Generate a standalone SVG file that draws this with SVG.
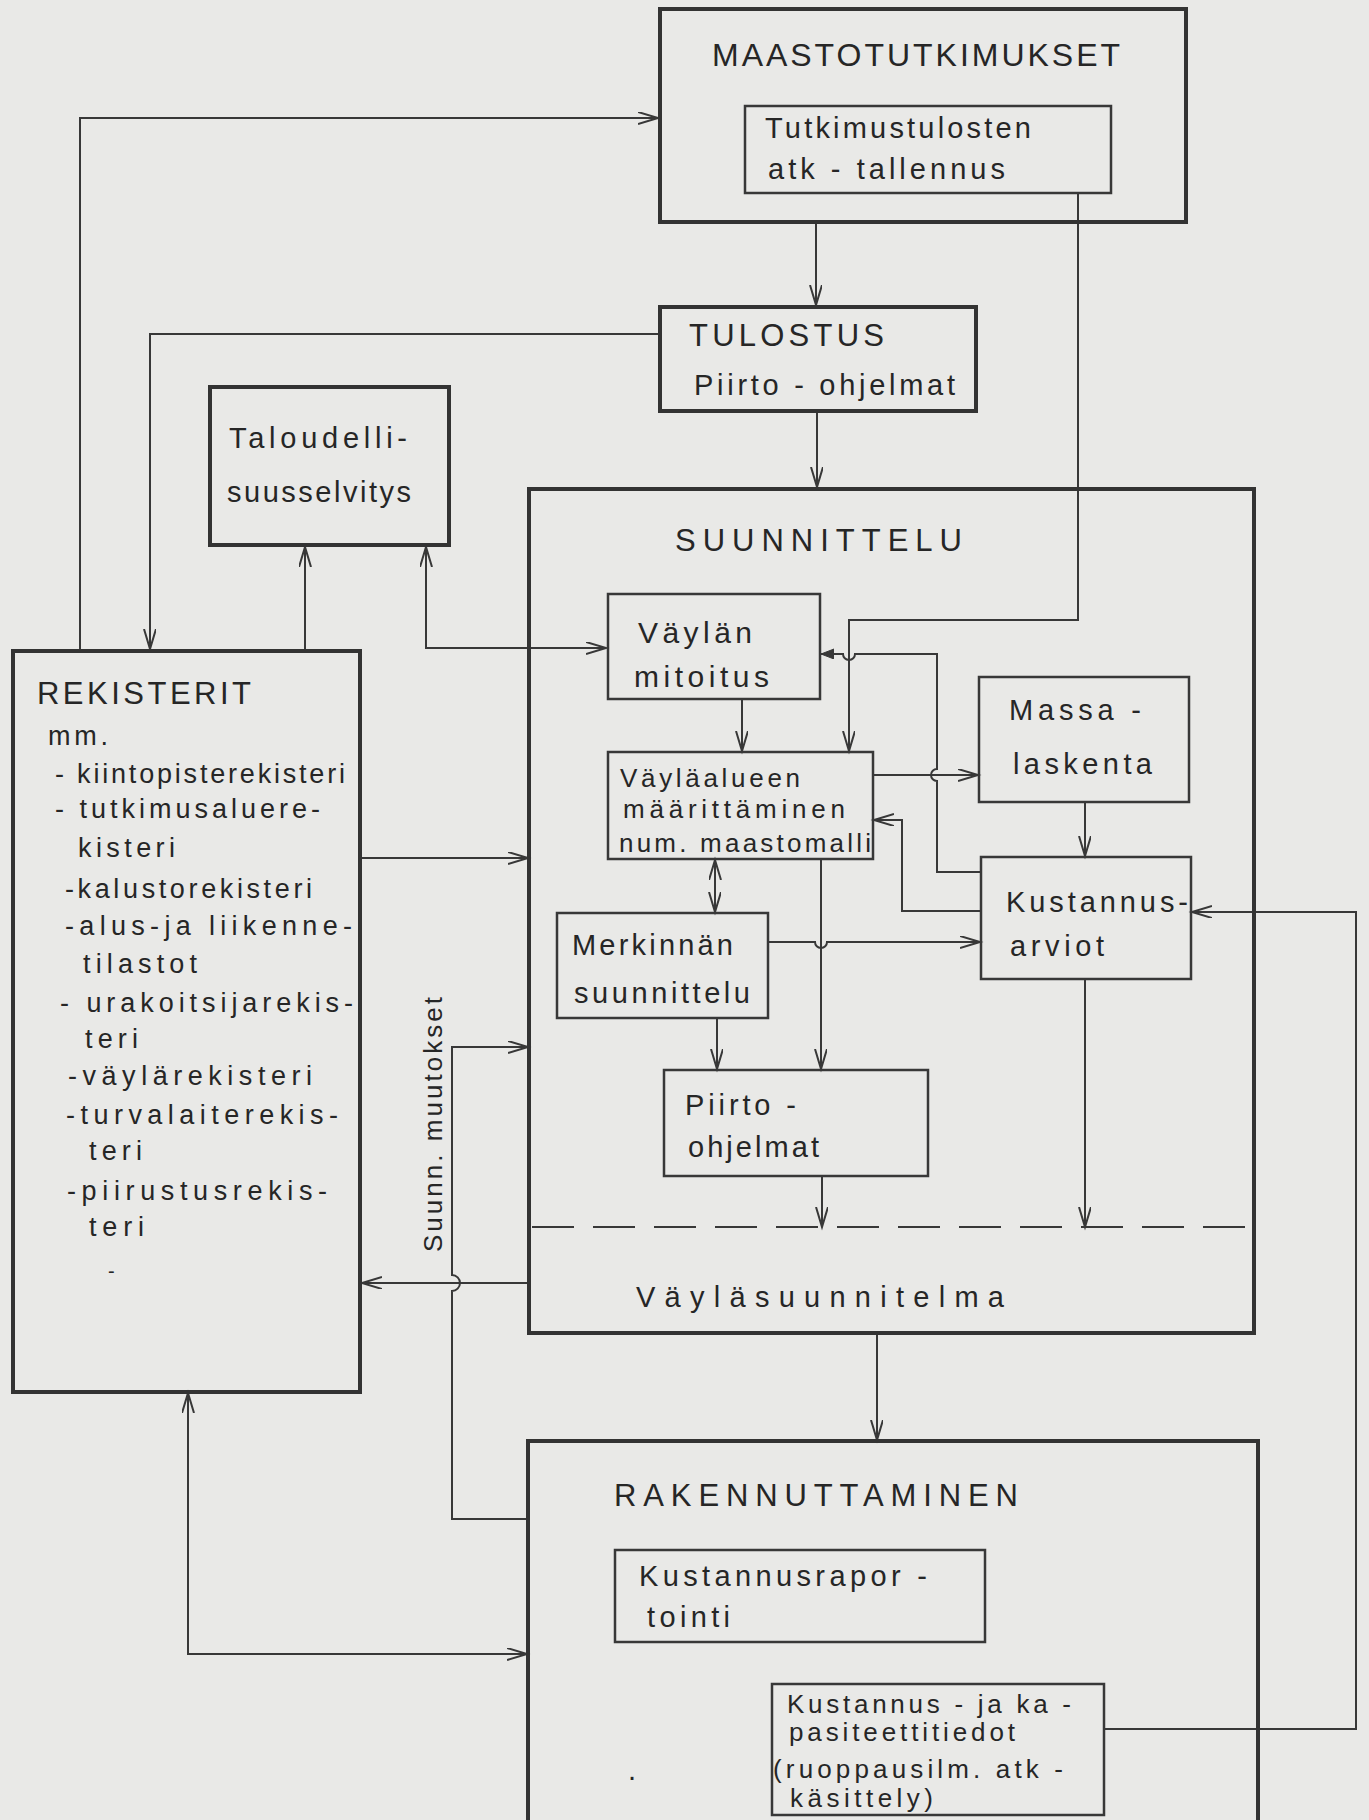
<svg xmlns="http://www.w3.org/2000/svg" width="1369" height="1820" viewBox="0 0 1369 1820">
<defs>
<style>
.bk{fill:none;stroke:#333;stroke-width:4}
.bx{fill:none;stroke:#383838;stroke-width:2.5}
.cn{fill:none;stroke:#383838;stroke-width:2}
text{font-family:"Liberation Sans",Arial,sans-serif;fill:#262626}
.ti{font-size:31px}
.t{font-size:29px}
.r{font-size:27px}
.s{font-size:26px}
</style>
<marker id="ar" markerUnits="userSpaceOnUse" markerWidth="24" markerHeight="16" refX="20" refY="6" orient="auto-start-reverse" viewBox="0 0 24 16">
<path d="M0,0 L20,6 L0,12" fill="none" stroke="#383838" stroke-width="2"/>
</marker>
<marker id="sm" markerUnits="userSpaceOnUse" markerWidth="16" markerHeight="12" refX="13" refY="5" orient="auto" viewBox="0 0 16 12">
<path d="M0,0 L13,5 L0,10 Z" fill="#383838" stroke="#383838" stroke-width="1"/>
</marker>
</defs>
<rect width="1369" height="1820" fill="#e9e9e7"/>

<g id="connectors">
<path class="cn" d="M80,651 V118 H658" marker-end="url(#ar)"/>
<path class="cn" d="M659,334 H150 V649" marker-end="url(#ar)"/>
<path class="cn" d="M305,651 V547" marker-end="url(#ar)"/>
<path class="cn" d="M426,547 V648 H606" marker-start="url(#ar)" marker-end="url(#ar)"/>
<path class="cn" d="M816,222 V305" marker-end="url(#ar)"/>
<path class="cn" d="M817,412 V487" marker-end="url(#ar)"/>
<path class="cn" d="M1078,193 V620 H849 V751" marker-end="url(#ar)"/>
<path class="cn" d="M742,699 V751" marker-end="url(#ar)"/>
<path class="cn" d="M981,872 H937 V781 A6,6 0 0 1 937,769 V654 H855 A6,6 0 0 1 843,654 H821" marker-end="url(#sm)"/>
<path class="cn" d="M873,775 H978" marker-end="url(#ar)"/>
<path class="cn" d="M1085,802 V856" marker-end="url(#ar)"/>
<path class="cn" d="M981,911 H902 V820 H874" marker-end="url(#ar)"/>
<path class="cn" d="M715,860 V912" marker-start="url(#ar)" marker-end="url(#ar)"/>
<path class="cn" d="M768,942 H815 A6,6 0 0 0 827,942 H980" marker-end="url(#ar)"/>
<path class="cn" d="M821,859 V1069" marker-end="url(#ar)"/>
<path class="cn" d="M717,1018 V1069" marker-end="url(#ar)"/>
<path class="cn" d="M822,1176 V1227" marker-end="url(#ar)"/>
<path class="cn" d="M1085,980 V1227" marker-end="url(#ar)"/>
<path class="cn" d="M532,1227 H1253" stroke-dasharray="42 19"/>
<path class="cn" d="M360,858 H528" marker-end="url(#ar)"/>
<path class="cn" d="M529,1283 H362" marker-end="url(#ar)"/>
<path class="cn" d="M528,1519 H452 V1291 A8,8 0 0 0 452,1275 V1047 H528" marker-end="url(#ar)"/>
<path class="cn" d="M877,1334 V1440" marker-end="url(#ar)"/>
<path class="cn" d="M188,1393 V1654 H527" marker-start="url(#ar)" marker-end="url(#ar)"/>
<path class="cn" d="M1104,1729 H1356 V912 H1192" marker-end="url(#ar)"/>
</g>

<g id="maastotutkimukset">
<rect class="bk" x="660" y="9" width="526" height="213"/>
<text class="ti" x="712" y="66" textLength="408" lengthAdjust="spacing" style="font-size:32px">MAASTOTUTKIMUKSET</text>
</g>
<g id="tutkimustulosten">
<rect class="bx" x="745" y="106" width="366" height="87"/>
<text class="t" x="765" y="138" textLength="266" lengthAdjust="spacing">Tutkimustulosten</text>
<text class="t" x="768" y="179" textLength="237" lengthAdjust="spacing">atk - tallennus</text>
</g>
<g id="tulostus">
<rect class="bk" x="660" y="307" width="316" height="104"/>
<text class="ti" x="689" y="346" textLength="195" lengthAdjust="spacing">TULOSTUS</text>
<text class="t" x="694" y="395" textLength="261" lengthAdjust="spacing">Piirto - ohjelmat</text>
</g>
<g id="taloudellisuusselvitys">
<rect class="bk" x="210" y="387" width="239" height="158"/>
<text class="t" x="229" y="448" textLength="178" lengthAdjust="spacing">Taloudelli-</text>
<text class="t" x="227" y="502" textLength="184" lengthAdjust="spacing">suusselvitys</text>
</g>
<g id="suunnittelu">
<rect class="bk" x="529" y="489" width="725" height="844"/>
<text class="ti" x="675" y="551" textLength="287" lengthAdjust="spacing">SUUNNITTELU</text>
<text class="t" x="636" y="1307" textLength="368" lengthAdjust="spacing">Väyläsuunnitelma</text>
</g>
<g id="vaylan-mitoitus">
<rect class="bx" x="608" y="594" width="212" height="105"/>
<text class="t" x="638" y="643" textLength="114" lengthAdjust="spacing" style="font-size:30px">Väylän</text>
<text class="t" x="634" y="687" textLength="135" lengthAdjust="spacing" style="font-size:30px">mitoitus</text>
</g>
<g id="vaylaalueen">
<rect class="bx" x="608" y="752" width="265" height="107"/>
<text class="s" x="620" y="787" textLength="180" lengthAdjust="spacing">Väyläalueen</text>
<text class="s" x="623" y="818" textLength="222" lengthAdjust="spacing">määrittäminen</text>
<text class="s" x="619" y="852" textLength="252" lengthAdjust="spacing">num. maastomalli</text>
</g>
<g id="massalaskenta">
<rect class="bx" x="979" y="677" width="210" height="125"/>
<text class="t" x="1009" y="720" textLength="132" lengthAdjust="spacing">Massa -</text>
<text class="t" x="1013" y="774" textLength="139" lengthAdjust="spacing">laskenta</text>
</g>
<g id="kustannusarviot">
<rect class="bx" x="981" y="857" width="210" height="122"/>
<text class="t" x="1006" y="912" textLength="182" lengthAdjust="spacing">Kustannus-</text>
<text class="t" x="1010" y="956" textLength="94" lengthAdjust="spacing">arviot</text>
</g>
<g id="merkinnan-suunnittelu">
<rect class="bx" x="557" y="913" width="211" height="105"/>
<text class="t" x="572" y="955" textLength="161" lengthAdjust="spacing">Merkinnän</text>
<text class="t" x="574" y="1003" textLength="176" lengthAdjust="spacing">suunnittelu</text>
</g>
<g id="piirto-ohjelmat">
<rect class="bx" x="664" y="1070" width="264" height="106"/>
<text class="t" x="685" y="1115" textLength="111" lengthAdjust="spacing">Piirto -</text>
<text class="t" x="688" y="1157" textLength="131" lengthAdjust="spacing">ohjelmat</text>
</g>
<g id="rekisterit">
<rect class="bk" x="13" y="651" width="347" height="741"/>
<text class="ti" x="37" y="704" textLength="214" lengthAdjust="spacing">REKISTERIT</text>
<text class="r" x="48" y="745" textLength="60" lengthAdjust="spacing">mm.</text>
<text class="r" x="55" y="783" textLength="290" lengthAdjust="spacing">- kiintopisterekisteri</text>
<text class="r" x="55" y="818" textLength="265" lengthAdjust="spacing">- tutkimusaluere-</text>
<text class="r" x="78" y="857" textLength="97" lengthAdjust="spacing">kisteri</text>
<text class="r" x="65" y="898" textLength="247" lengthAdjust="spacing">-kalustorekisteri</text>
<text class="r" x="65" y="935" textLength="287" lengthAdjust="spacing">-alus-ja liikenne-</text>
<text class="r" x="83" y="973" textLength="114" lengthAdjust="spacing">tilastot</text>
<text class="r" x="60" y="1012" textLength="293" lengthAdjust="spacing">- urakoitsijarekis-</text>
<text class="r" x="85" y="1048" textLength="53" lengthAdjust="spacing">teri</text>
<text class="r" x="68" y="1085" textLength="244" lengthAdjust="spacing">-väylärekisteri</text>
<text class="r" x="66" y="1124" textLength="272" lengthAdjust="spacing">-turvalaiterekis-</text>
<text class="r" x="89" y="1160" textLength="53" lengthAdjust="spacing">teri</text>
<text class="r" x="67" y="1200" textLength="260" lengthAdjust="spacing">-piirustusrekis-</text>
<text class="r" x="89" y="1236" textLength="55" lengthAdjust="spacing">teri</text>
<text class="r" x="108" y="1278" style="font-size:20px">-</text>
</g>
<g id="suunn-muutokset-label">
<text class="s" transform="translate(442,1252) rotate(-90)" x="0" y="0" textLength="255" lengthAdjust="spacing">Suunn. muutokset</text>
</g>
<g id="rakennuttaminen">
<rect class="bk" x="528" y="1441" width="730" height="400"/>
<text class="ti" x="614" y="1506" textLength="404" lengthAdjust="spacing">RAKENNUTTAMINEN</text>
<text class="t" x="628" y="1780">.</text>
</g>
<g id="kustannusraportointi">
<rect class="bx" x="615" y="1550" width="370" height="92"/>
<text class="t" x="639" y="1586" textLength="288" lengthAdjust="spacing">Kustannusrapor -</text>
<text class="t" x="647" y="1627" textLength="83" lengthAdjust="spacing">tointi</text>
</g>
<g id="kustannus-ja-kapasiteettitiedot">
<rect class="bx" x="772" y="1684" width="332" height="131"/>
<text class="s" x="787" y="1713" textLength="284" lengthAdjust="spacing">Kustannus - ja ka -</text>
<text class="s" x="789" y="1741" textLength="226" lengthAdjust="spacing">pasiteettitiedot</text>
<text class="s" x="773" y="1778" textLength="290" lengthAdjust="spacing">(ruoppausilm. atk -</text>
<text class="s" x="790" y="1807" textLength="143" lengthAdjust="spacing">käsittely)</text>
</g>
</svg>
